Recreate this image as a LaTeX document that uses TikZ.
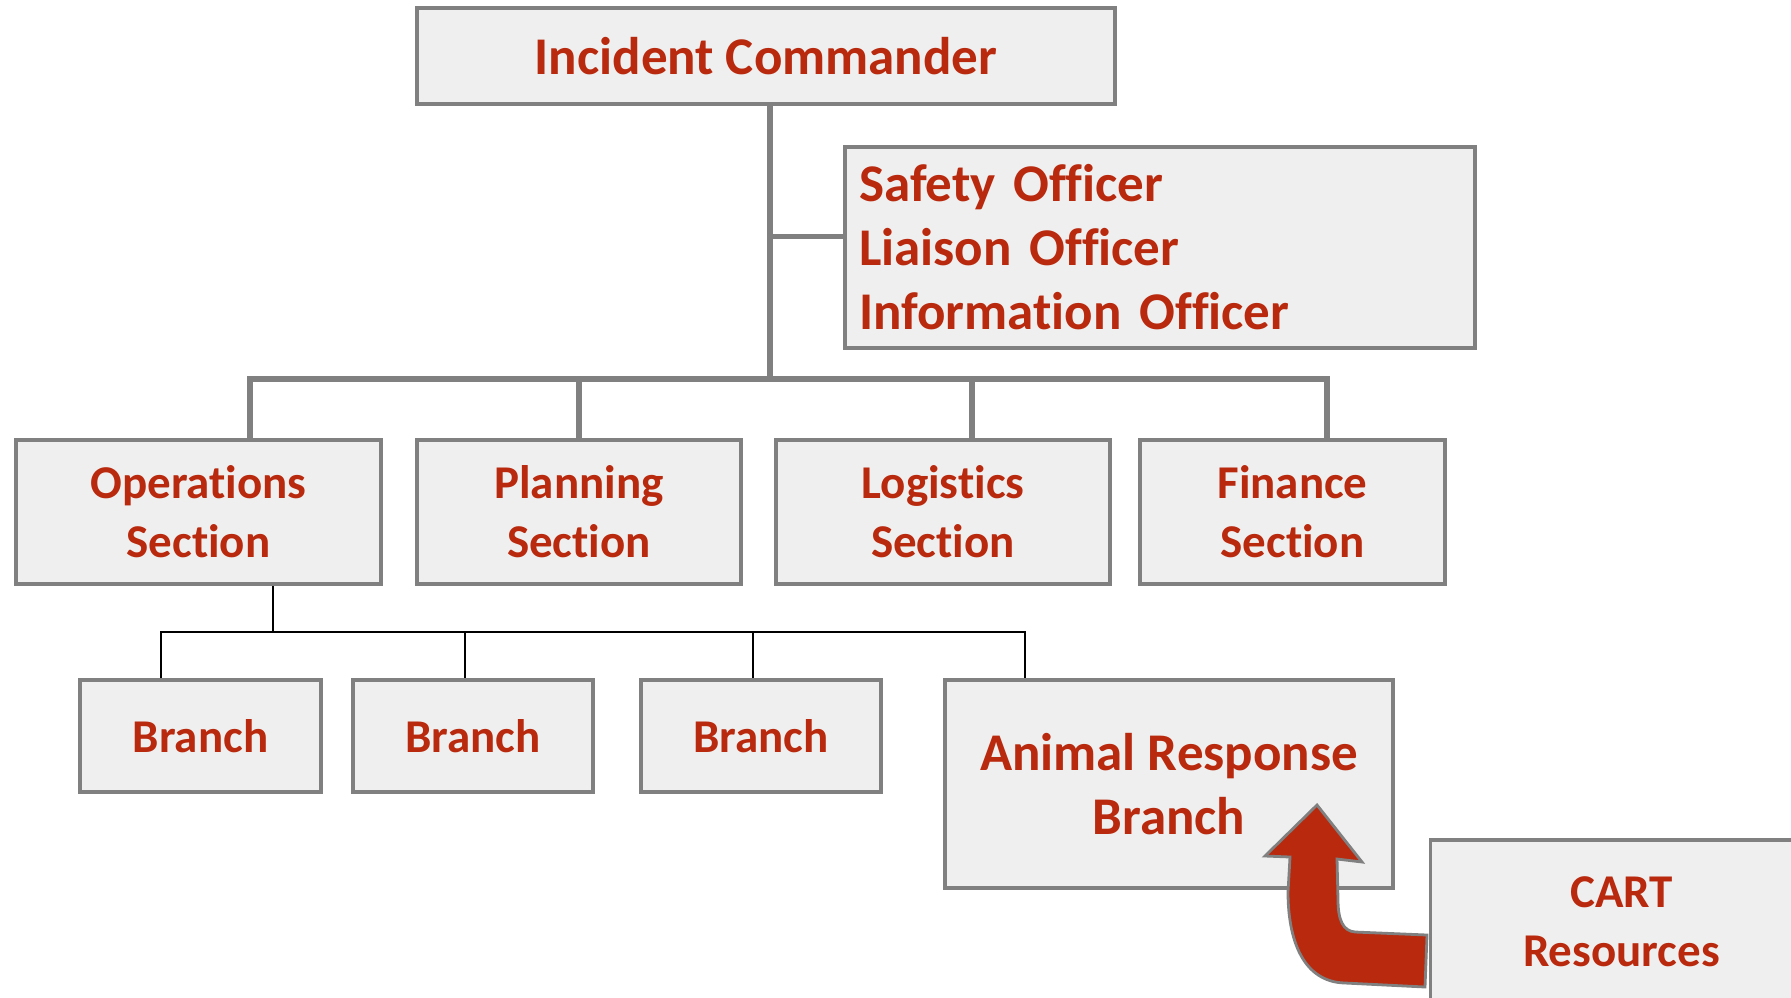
\documentclass[tikz,border=0pt]{standalone}
\usepackage{fontspec}
\setmainfont{Carlito}[Ligatures=NoCommon]
\usepackage{tikz}
\usetikzlibrary{positioning}
\definecolor{icsred}{RGB}{185,41,14}
\definecolor{boxfill}{RGB}{239,239,239}
\definecolor{boxgray}{RGB}{128,128,128}
\tikzset{
  box/.style={draw=boxgray, fill=boxfill, line width=1.8pt, text=icsred, align=center, inner sep=0pt,
    font=\bfseries\fontsize{23.5}{29.5}\selectfont},
  bigbox/.style={box, font=\bfseries\fontsize{26.5}{32}\selectfont},
  trunk/.style={draw=boxgray, line width=2.8pt},
  twig/.style={draw=black, line width=1pt},
}

\begin{document}
\begin{tikzpicture}[x=0.5pt, y=-0.5pt]
	\useasboundingbox (0,0) rectangle (1791,997);

	% command and staff
	\node[bigbox, minimum width=349pt, minimum height=48pt] (ic) at (766,56) {Incident Commander};
	\node[bigbox, align=left, text width=301pt, inner xsep=7pt, minimum height=100.5pt] (off) at (1160,247.5)
		{Safety Officer\\Liaison Officer\\Information Officer};

	% sections
	\node[box, minimum width=182.5pt, minimum height=72pt] (ops) at (198.5,512) {Operations\\Section};
	\node[box, minimum width=162pt, minimum height=72pt] (plan) at (579,512) {Planning\\Section};
	\node[box, minimum width=167pt, minimum height=72pt] (log) at (943,512) {Logistics\\Section};
	\node[box, minimum width=152.5pt, minimum height=72pt] (fin) at (1292.5,512) {Finance\\Section};

	% branches
	\node[box, minimum width=120.5pt, minimum height=56pt] (b1) at (200.5,736) {Branch};
	\node[box, minimum width=120pt, minimum height=56pt] (b2) at (473,736) {Branch};
	\node[box, minimum width=120pt, minimum height=56pt] (b3) at (761,736) {Branch};
	\node[bigbox, minimum width=224pt, minimum height=104pt] (arb) at (1169,784) {Animal Response\\Branch};

	% upper connectors
	\coordinate (hub) at (770,379);
	\coordinate (d1) at (250,379);
	\coordinate (d2) at (579,379);
	\coordinate (d3) at (972,379);
	\coordinate (d4) at (1327,379);
	\coordinate (offin) at ([yshift=5.5pt]off.west);
	\draw[trunk] (ic.south -| hub) -- (hub);
	\draw[trunk] (hub |- offin) -- (offin);
	\draw[trunk] (d1 |- ops.north) -- (d1) -- (d4) -- (d4 |- fin.north);
	\draw[trunk] (d2) -- (d2 |- plan.north);
	\draw[trunk] (d3) -- (d3 |- log.north);

	% lower connectors
	\coordinate (ophub) at (273,632);
	\coordinate (e1) at (161,632);
	\coordinate (e2) at (465,632);
	\coordinate (e3) at (753,632);
	\coordinate (e4) at (1025,632);
	\draw[twig] (ops.south -| ophub) -- (ophub);
	\draw[twig] (e1 |- b1.north) -- (e1) -- (e4) -- (e4 |- arb.north);
	\draw[twig] (e2) -- (e2 |- b2.north);
	\draw[twig] (e3) -- (e3 |- b3.north);

	% bent arrow
	\draw[fill=icsred, draw=boxgray, line width=1.4pt, line join=miter]
		(1427,935) -- (1355,932) .. controls (1343,931) and (1338,920) .. (1338,900)
		-- (1337,859) -- (1362,862) -- (1317,805) -- (1265,856) -- (1290,857) -- (1288,892)
		.. controls (1288,940) and (1303,982) .. (1345,983) -- (1425,987) -- cycle;

	% CART
	\node[box, minimum width=191pt, minimum height=82pt] (cart) at (1621.5,922) {CART\\Resources};
\end{tikzpicture}
\end{document}
